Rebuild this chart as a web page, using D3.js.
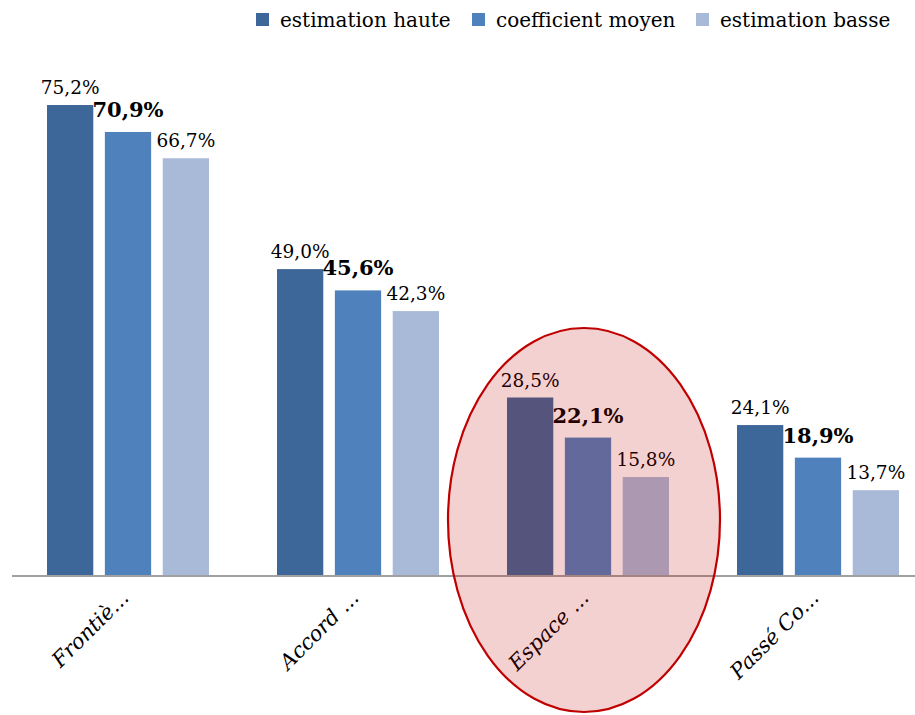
<!DOCTYPE html>
<html>
<head>
<meta charset="utf-8">
<script src="https://cdn.jsdelivr.net/npm/d3@7"></script>
<style>
  html, body { margin: 0; padding: 0; background: #fff; }
  svg { display: block; }
  svg text { font-family: "DejaVu Serif", serif; }
</style>
</head>
<body>
<svg id="chart" width="915" height="715"></svg>
<script>
// Categories (truncated names as they appear on the axis)
const categories = ["Frontiè...", "Accord ...", "Espace ...", "Passé Co..."];
// Series names
const series = ["estimation haute", "coefficient moyen", "estimation basse"];
// Values in percent, one array per series
const estimationHaute = [75.2, 49.0, 28.5, 24.1];
const coefficientMoyen = [70.9, 45.6, 22.1, 18.9];
const estimationBasse = [66.7, 42.3, 15.8, 13.7];
const seriesValues = [estimationHaute, coefficientMoyen, estimationBasse];
const colors = ["#3d6799", "#4f81bd", "#a9bad8"];
// Category that gets the highlight ellipse
const highlighted = "Espace ...";

const fmt = v => v.toFixed(1).replace(".", ",") + "%";

const svg = d3.select("#chart");
const baseY = 576;

const x0 = d3.scaleBand().domain(categories).range([13, 933]).padding(0);
const x1 = d3.scaleBand().domain(series).range([34, 196]).paddingInner(0.2).paddingOuter(0);
const y = d3.scaleLinear().domain([0, 80]).range([baseY, baseY - 80 * 6.263]);

const rows = categories.map((c, i) => ({
  cat: c,
  vals: series.map((s, j) => ({ s, j, v: seriesValues[j][i] }))
}));

const groups = svg.append("g").selectAll("g")
  .data(rows).join("g")
  .attr("transform", d => `translate(${x0(d.cat)},0)`);

groups.selectAll("rect")
  .data(d => d.vals).join("rect")
  .attr("x", d => x1(d.s))
  .attr("y", d => y(d.v))
  .attr("width", x1.bandwidth())
  .attr("height", d => baseY - y(d.v))
  .attr("fill", d => colors[d.j]);

groups.selectAll("text")
  .data(d => d.vals).join("text")
  .attr("x", d => x1(d.s) + x1.bandwidth() / 2)
  .attr("y", d => y(d.v) - (d.j === 1 ? 15 : 11))
  .attr("text-anchor", "middle")
  .attr("font-size", d => d.j === 1 ? 21 : 18.5)
  .attr("font-weight", d => d.j === 1 ? "bold" : "normal")
  .attr("fill", "#000")
  .text(d => fmt(d.v));

// Baseline
svg.append("line")
  .attr("x1", 12).attr("x2", 915)
  .attr("y1", baseY).attr("y2", baseY)
  .attr("stroke", "#a0a0a0").attr("stroke-width", 2);

// Category labels, rotated
svg.append("g").selectAll("text")
  .data(categories).join("text")
  .attr("transform", d => `translate(${x0(d) + x0.bandwidth() / 2 + 2},${baseY + 23}) rotate(-45)`)
  .attr("text-anchor", "end")
  .attr("font-style", "italic")
  .attr("font-size", 21)
  .attr("fill", "#000")
  .text(d => d);

// Legend
const legend = svg.append("g").attr("font-size", 20);
const legendX = [256, 472, 696];
series.forEach((s, j) => {
  legend.append("rect")
    .attr("x", legendX[j]).attr("y", 13)
    .attr("width", 13).attr("height", 13)
    .attr("fill", colors[j]);
  legend.append("text")
    .attr("x", legendX[j] + 24).attr("y", 27)
    .attr("fill", "#000")
    .text(s);
});

// Highlight ellipse around one category
svg.append("ellipse")
  .attr("cx", x0(highlighted) + x0.bandwidth() / 2 - 4)
  .attr("cy", 520)
  .attr("rx", 136)
  .attr("ry", 192)
  .attr("fill", "#c00000")
  .attr("fill-opacity", 0.18)
  .attr("stroke", "#c00000")
  .attr("stroke-width", 2.2);
</script>
</body>
</html>
